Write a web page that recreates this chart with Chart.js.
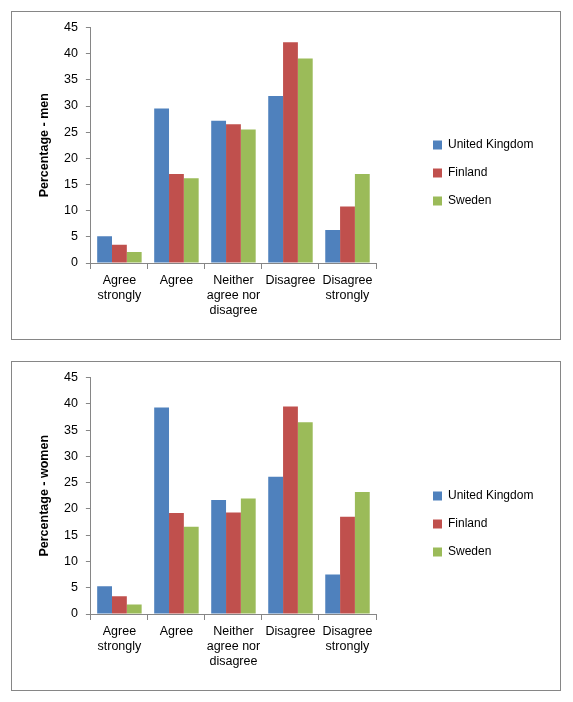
<!DOCTYPE html>
<html><head><meta charset="utf-8">
<script src="https://cdn.jsdelivr.net/npm/chart.js@4"></script>
<style>
body{margin:0;background:#fff;}
.box{position:absolute;left:11px;width:550px;border:1px solid #868686;box-sizing:border-box;}
</style></head><body>
<div class="box" style="top:11px;height:329px"><canvas id="men" width="548" height="327"></canvas></div>
<div class="box" style="top:361px;height:330px"><canvas id="women" width="548" height="328"></canvas></div>
<script>
const categories = [['Agree','strongly'], 'Agree', ['Neither','agree nor','disagree'], 'Disagree', ['Disagree','strongly']];
const countries = ['United Kingdom', 'Finland', 'Sweden'];
const colors = ['#4F81BD', '#C0504D', '#9BBB59'];
const menUK = [5.1, 29.5, 27.2, 31.9, 6.3];
const menFI = [3.5, 17.0, 26.5, 42.2, 10.8];
const menSE = [2.1, 16.2, 25.5, 39.1, 17.0];
const womenUK = [5.3, 39.3, 21.7, 26.1, 7.5];
const womenFI = [3.4, 19.2, 19.3, 39.5, 18.5];
const womenSE = [1.8, 16.6, 22.0, 36.5, 23.2];
const yTicks = [0, 5, 10, 15, 20, 25, 30, 35, 40, 45];

const legendPlace = {
  id: 'legendPlace',
  beforeInit(chart) {
    const l = chart.legend;
    const fit = l.fit;
    l.fit = function() { fit.call(this); this.width = 184; };
  },
  afterLayout(chart) {
    const l = chart.legend;
    l.left += 41; l.right += 41;
  }
};

function makeChart(id, title, series, padTop) {
  new Chart(document.getElementById(id), {
    type: 'bar',
    data: {
      labels: categories,
      datasets: series.map((d, i) => ({
        label: countries[i], data: d, backgroundColor: colors[i],
        categoryPercentage: 0.78, barPercentage: 1
      }))
    },
    options: {
      responsive: false, animation: false,
      layout: {padding: {left: 21, top: padTop, bottom: 17}},
      plugins: {
        tooltip: {enabled: false},
        legend: {
          position: 'right',
          labels: {boxWidth: 9, boxHeight: 9, padding: 16, color: '#000',
                   font: {family: 'Liberation Sans', size: 12}}
        }
      },
      scales: {
        x: {
          grid: {offset: true, drawOnChartArea: false, tickLength: 6, color: '#868686'},
          border: {color: '#868686'},
          ticks: {color: '#000', maxRotation: 0, padding: 4, font: {family: 'Liberation Sans', size: 12.5}}
        },
        y: {
          min: 0, max: 45,
          afterBuildTicks(ax) { ax.ticks = yTicks.map(v => ({value: v})); },
          grid: {drawOnChartArea: false, tickLength: 5, color: '#868686'},
          border: {color: '#868686'},
          ticks: {color: '#000', padding: 8, font: {family: 'Liberation Sans', size: 12.5}},
          title: {display: true, text: title, color: '#000',
                  font: {family: 'Liberation Sans', size: 12.5, weight: 'bold'}}
        }
      }
    },
    plugins: [legendPlace]
  });
}
makeChart('men', 'Percentage - men', [menUK, menFI, menSE], 12);
makeChart('women', 'Percentage - women', [womenUK, womenFI, womenSE], 13);
</script>
</body></html>
